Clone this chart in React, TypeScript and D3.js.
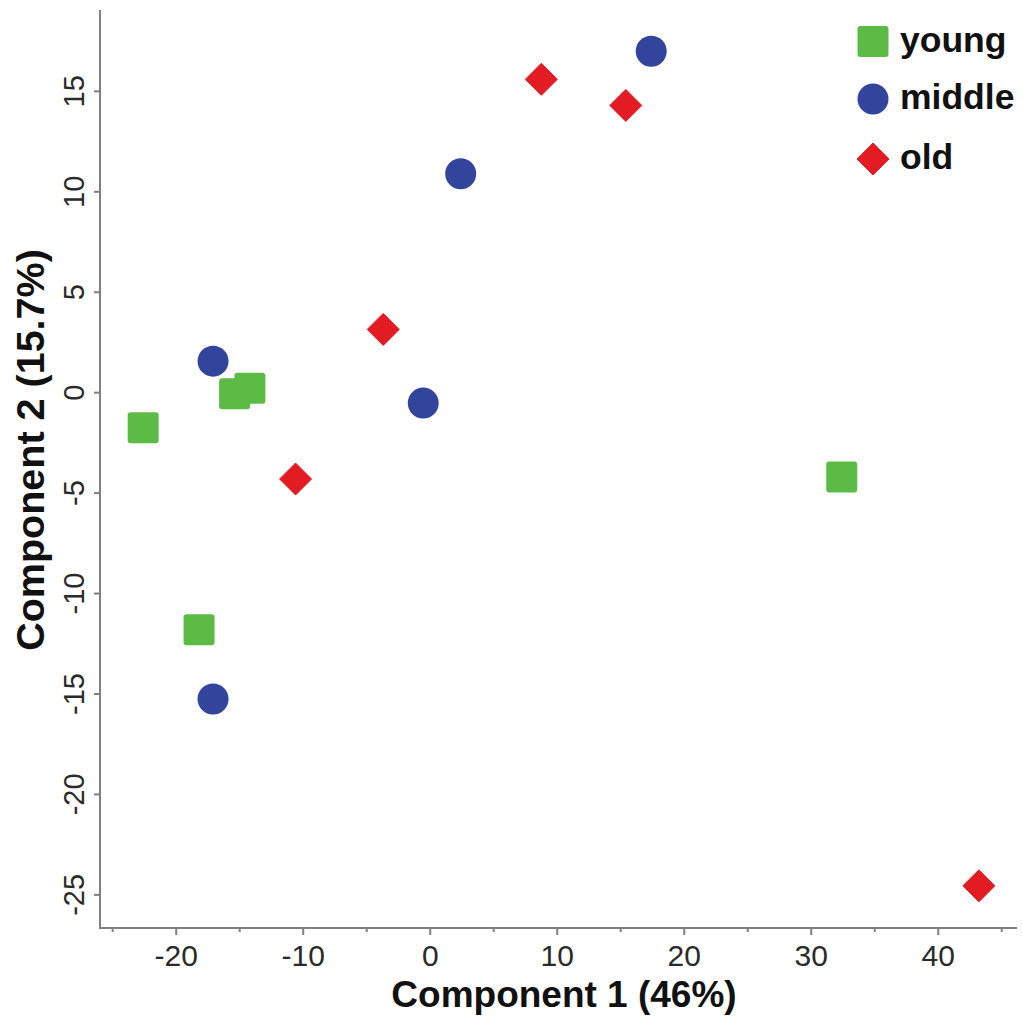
import React from "react";
import * as d3 from "d3";

// PCA scores by age group
const youngPoints: [number, number][] = [
  [-22.6, -1.75],
  [-15.4, -0.05],
  [-14.2, 0.22],
  [-18.2, -11.8],
  [32.4, -4.2],
];
const middlePoints: [number, number][] = [
  [17.4, 17.0],
  [2.4, 10.9],
  [-17.1, 1.57],
  [-0.55, -0.52],
  [-17.1, -15.25],
];
const oldPoints: [number, number][] = [
  [8.75, 15.6],
  [15.4, 14.3],
  [-3.7, 3.15],
  [-10.6, -4.3],
  [43.2, -24.55],
];

const groupNames = ["young", "middle", "old"];
const groupColors = ["#5cbb45", "#33449c", "#e31b23"];

const xMajorTicks = [-20, -10, 0, 10, 20, 30, 40];
const xMinorTicks = [-25, -15, -5, 5, 15, 25, 35, 45];
const yTicks = [-25, -20, -15, -10, -5, 0, 5, 10, 15];

const xTitle = "Component 1 (46%)";
const yTitle = "Component 2 (15.7%)";

const W = 1023;
const H = 1016;
const FONT = "'Liberation Sans', Arial, Helvetica, sans-serif";

const x = d3.scaleLinear().domain([-26, 46.2]).range([100, 1017]);
const y = d3.scaleLinear().domain([-26.65, 19.05]).range([928, 10]);

const AXIS = "#808080";
const SQ = 31;
const R = 15.5;
const DI = 16;

function Marker({ kind, cx, cy, color }: { kind: number; cx: number; cy: number; color: string }) {
  if (kind === 0) {
    return <rect x={cx - SQ / 2} y={cy - SQ / 2} width={SQ} height={SQ} rx={3} fill={color} />;
  }
  if (kind === 1) {
    return <circle cx={cx} cy={cy} r={R} fill={color} />;
  }
  const p = d3.path();
  p.moveTo(cx, cy - DI);
  p.lineTo(cx + DI, cy);
  p.lineTo(cx, cy + DI);
  p.lineTo(cx - DI, cy);
  p.closePath();
  return <path d={p.toString()} fill={color} strokeLinejoin="round" stroke={color} strokeWidth={1} />;
}

export default function App() {
  const groups = [youngPoints, middlePoints, oldPoints];
  const [x0, x1] = x.range();
  const [yb, yt] = y.range();
  const legendY = [41.5, 99, 159];

  return (
    <div style={{ position: "absolute", left: 0, top: 0 }}>
      <svg width={W} height={H} style={{ display: "block", background: "#fff" }} fontFamily={FONT}>
        {/* axes */}
        <line x1={x0} x2={x0} y1={yt} y2={yb} stroke={AXIS} strokeWidth={2} />
        <line x1={x0 - 1} x2={x1} y1={yb} y2={yb} stroke={AXIS} strokeWidth={2} />

        {xMajorTicks.map((t) => (
          <g key={"xm" + t}>
            <line x1={x(t)} x2={x(t)} y1={yb} y2={yb + 7} stroke={AXIS} strokeWidth={2} />
            <text x={x(t)} y={966} textAnchor="middle" fontSize={30} fill="#2a2a2a">
              {t}
            </text>
          </g>
        ))}
        {xMinorTicks.map((t) => (
          <line key={"xn" + t} x1={x(t)} x2={x(t)} y1={yb} y2={yb + 4} stroke={AXIS} strokeWidth={2} />
        ))}
        {yTicks.map((t) => (
          <g key={"y" + t}>
            <line x1={x0 - 6} x2={x0} y1={y(t)} y2={y(t)} stroke={AXIS} strokeWidth={2} />
            <text
              transform={`translate(84,${y(t)}) rotate(-90)`}
              textAnchor="middle"
              fontSize={29}
              fill="#2a2a2a"
            >
              {t}
            </text>
          </g>
        ))}

        {/* axis titles */}
        <text x={564} y={1007} textAnchor="middle" fontSize={37} fontWeight="bold" fill="#111">
          {xTitle}
        </text>
        <text
          transform={`translate(44,450) rotate(-90)`}
          textAnchor="middle"
          fontSize={39.5}
          fontWeight="bold"
          fill="#111"
        >
          {yTitle}
        </text>

        {/* points */}
        {groups.map((pts, gi) =>
          pts.map((d, i) => (
            <Marker key={gi + "-" + i} kind={gi} cx={x(d[0])} cy={y(d[1])} color={groupColors[gi]} />
          ))
        )}

        {/* legend */}
        {groupNames.map((name, gi) => (
          <g key={name}>
            <Marker kind={gi} cx={873} cy={legendY[gi]} color={groupColors[gi]} />
            <text x={900} y={legendY[gi] + 10} fontSize={35.5} fontWeight="bold" fill="#111">
              {name}
            </text>
          </g>
        ))}
      </svg>
    </div>
  );
}
